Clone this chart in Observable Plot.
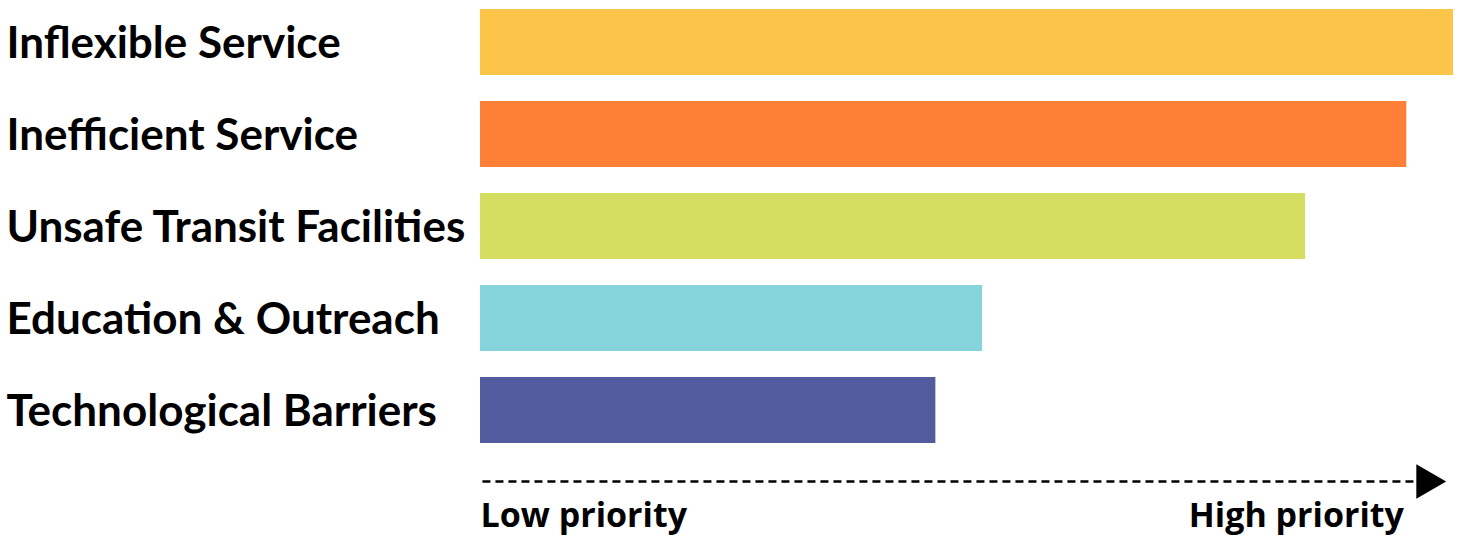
<!DOCTYPE html>
<html>
<head>
<meta charset="utf-8">
<script src="https://cdn.jsdelivr.net/npm/d3@7"></script>
<script src="https://cdn.jsdelivr.net/npm/@observablehq/plot@0.6"></script>
<style>
  html, body { margin: 0; padding: 0; background: #fff; }
  #chart svg { display: block; }
</style>
</head>
<body>
<div id="chart"></div>
<script>
// Categories (top to bottom) and their relative priority scores (0–100)
const categories = [
  "Inflexible Service",
  "Inefficient Service",
  "Unsafe Transit Facilities",
  "Education & Outreach",
  "Technological Barriers"
];
const scores = [100, 95.2, 84.8, 51.6, 46.8];
const colors = ["#FCC54A", "#FE8036", "#D5DD60", "#85D4DB", "#515B9E"];

// Priority axis annotation
const axisRow = "priority-axis";
const lowLabel = "Low priority";
const highLabel = "High priority";
const lowLabelPos = 0;
const highLabelPos = 94.9;
const arrowStart = 0.2;
const arrowShaftEnd = 96.1;
const arrowHeadPos = 97.2;

const data = categories.map((c, i) => ({category: c, score: scores[i], color: colors[i]}));

const priorityText = {
  y: () => axisRow, text: d => d,
  fontSize: 34, fontWeight: 700, fontFamily: "Open Sans, sans-serif", fill: "#000", dy: 14
};

const chart = Plot.plot({
  width: 1460,
  height: 537,
  marginLeft: 480,
  marginRight: 7,
  marginTop: 9,
  marginBottom: 1,
  style: {fontFamily: "Lato, sans-serif", color: "#000", background: "#fff"},
  x: {domain: [0, 100], axis: null},
  y: {domain: [...categories, axisRow], paddingInner: 0.285, paddingOuter: 0, align: 0, axis: null, label: null},
  marks: [
    Plot.barX(data, {x1: 0, x2: "score", y: "category", fill: "color"}),
    Plot.axisY(categories, {
      label: null,
      tickSize: 0, tickPadding: 474, textAnchor: "start",
      fontSize: 44, fontWeight: 700, fontFamily: "Lato, sans-serif", fill: "#000", dy: 1
    }),
    Plot.link([0], {
      x1: () => arrowStart, x2: () => arrowShaftEnd,
      y1: () => axisRow, y2: () => axisRow,
      stroke: "#000", strokeWidth: 2.5, strokeDasharray: "8,5", dy: -21
    }),
    Plot.dot([0], {
      x: () => arrowHeadPos, y: () => axisRow, symbol: "triangle", r: 12.8,
      rotate: 90, fill: "#000", stroke: null, dy: -21
    }),
    Plot.text([lowLabel], {...priorityText, x: () => lowLabelPos, textAnchor: "start"}),
    Plot.text([highLabel], {...priorityText, x: () => highLabelPos, textAnchor: "end"})
  ]
});
document.getElementById("chart").append(chart);
</script>
</body>
</html>
